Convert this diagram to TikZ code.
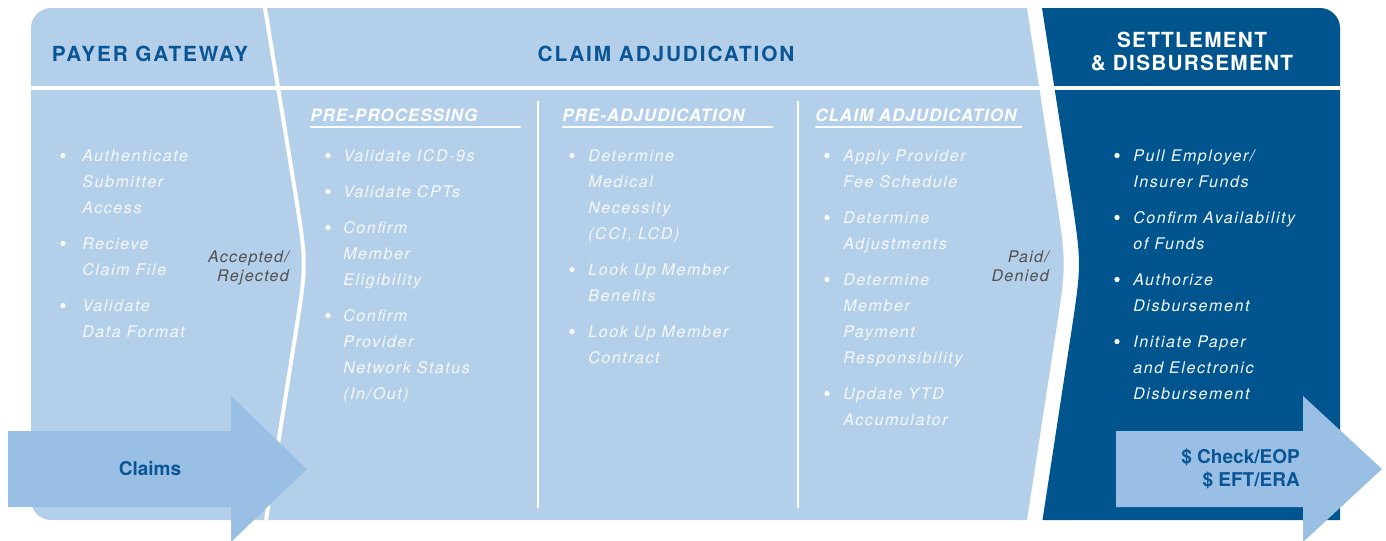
\documentclass[tikz,border=0pt]{standalone}
\usepackage{fontspec}
\newfontfamily\hfont[LetterSpace=9]{TeX Gyre Heros}
\newfontfamily\dfont[LetterSpace=6]{TeX Gyre Heros}
\newfontfamily\sfont[LetterSpace=6]{TeX Gyre Heros}
\newfontfamily\bfont[LetterSpace=10]{TeX Gyre Heros}
\newfontfamily\ffont[LetterSpace=8]{TeX Gyre Heros}
\newfontfamily\pfont{TeX Gyre Heros}
\definecolor{lightpanel}{HTML}{B3CFEA}
\definecolor{arrowfill}{HTML}{99BFE5}
\definecolor{darkpanel}{HTML}{00558F}
\definecolor{titleblue}{HTML}{0A5595}
\definecolor{graytext}{HTML}{505050}
\definecolor{softwhite}{HTML}{F6F9FD}
\tikzset{
  header/.style={font=\hfont\bfseries\fontsize{15.6}{18}\selectfont, text=titleblue, inner sep=0pt, anchor=base},
  darkheader/.style={font=\dfont\bfseries\fontsize{15.6}{18}\selectfont, text=white, inner sep=0pt, anchor=base},
  subhead/.style={font=\sfont\bfseries\itshape\fontsize{12.75}{15}\selectfont, text=white, inner sep=0pt, anchor=base west},
  btext/.style={font=\bfont\itshape\fontsize{12}{14}\selectfont, text=softwhite, inner sep=0pt, anchor=base west},
  bdot/.style={circle, fill=softwhite, inner sep=0pt, minimum size=4pt},
  flowlabel/.style={font=\ffont\itshape\fontsize{12}{14}\selectfont, text=graytext, inner sep=0pt, anchor=base east},
  arrowtext/.style={font=\pfont\bfseries\fontsize{14.25}{17}\selectfont, text=titleblue, inner sep=0pt},
  sepline/.style={white, line width=3pt},
  divider/.style={white, line width=2pt},
  uline/.style={white, line width=1.3pt},
  bigarrow/.style={fill=arrowfill}
}
\newcommand\bitems[5]{%
  \node[bdot] (#1-dot) at (#2,#4-6) {};
  \foreach \bline [count=\k from 0] in {#5}{
    \node[btext] (#1-\k) at (#3,{#4+26*\k}) {\bline};
  }
}
\begin{document}
\begin{tikzpicture}[x=0.75pt,y=-0.75pt]
\useasboundingbox (0,0) rectangle (1386,540);
% light panel
\fill[lightpanel] (1027,8) -- (51,8) .. controls (40,8) and (31,17) .. (31,28)
  -- (31,500) .. controls (31,511) and (40,520) .. (51,520) -- (1027,520)
  -- (1055.6,334) .. controls (1066.4,264) .. (1055.6,194) -- cycle;
% dark panel
\fill[darkpanel] (1042,8) -- (1320,8) .. controls (1331,8) and (1340,17) .. (1340,28)
  -- (1340,520) -- (1042.5,520)
  -- (1071,334) .. controls (1081.6,264) .. (1071,194) -- cycle;
% header line
\draw[sepline] (31,87.5) -- (1340,87.5);
% first separator
\draw[sepline] (265,8) -- (295.5,194) .. controls (306.5,264) .. (295.5,334) -- (266,520);
% column dividers
\draw[divider] (538,101) -- (538,508);
\draw[divider] (798,101) -- (798,508);
% headers
\node[header] (hpg) at (150,61) {PAYER GATEWAY};
\node[header] (hca) at (666,61) {CLAIM ADJUDICATION};
\node[darkheader] (hsd1) at (1192,47) {SETTLEMENT};
\node[darkheader] (hsd2) at (1192,70) {\& DISBURSEMENT};
% subheaders
\node[subhead] (spp) at (310,121) {PRE-PROCESSING};
\node[subhead] (spa) at (562,121) {PRE-ADJUDICATION};
\node[subhead] (sca) at (815,121) {CLAIM ADJUDICATION};
\draw[uline] (310,127) -- (521,127);
\draw[uline] (562,127) -- (773,127);
\draw[uline] (815,127) -- (1022,127);
% payer gateway
\bitems{pg1}{63}{82}{161.5}{Authenticate,Submitter,Access}
\bitems{pg2}{63}{82}{249.5}{Recieve,Claim File}
\bitems{pg3}{63}{82}{311.5}{Validate,Data Format}
% pre-processing
\bitems{pp1}{328}{343}{161.5}{Validate ICD-9s}
\bitems{pp2}{328}{343}{197.5}{Validate CPTs}
\bitems{pp3}{328}{343}{233.5}{Confirm,Member,Eligibility}
\bitems{pp4}{328}{343}{321.5}{Confirm,Provider,Network Status,(In/Out)}
% pre-adjudication
\bitems{pa1}{572}{588}{161.5}{Determine,Medical,Necessity,{(CCI, LCD)}}
\bitems{pa2}{572}{588}{275.5}{Look Up Member,Benefits}
\bitems{pa3}{572}{588}{337.5}{Look Up Member,Contract}
% claim adjudication
\bitems{ca1}{827}{843}{161.5}{Apply Provider,Fee Schedule}
\bitems{ca2}{827}{843}{223.5}{Determine,Adjustments}
\bitems{ca3}{827}{843}{285.5}{Determine,Member,Payment,Responsibility}
\bitems{ca4}{827}{843}{399.5}{Update YTD,Accumulator}
% settlement
\bitems{sd1}{1117}{1133}{161.5}{Pull Employer/,Insurer Funds}
\bitems{sd2}{1117}{1133}{223.5}{Confirm Availability,of Funds}
\bitems{sd3}{1117}{1133}{285.5}{Authorize,Disbursement}
\bitems{sd4}{1117}{1133}{347.5}{Initiate Paper,and Electronic,Disbursement}
% flow labels
\node[flowlabel] (acc1) at (289,262) {Accepted/};
\node[flowlabel] (acc2) at (289,281) {Rejected};
\node[flowlabel] (pd1) at (1049,262) {Paid/};
\node[flowlabel] (pd2) at (1049,281) {Denied};
% arrows
\fill[bigarrow] (8,431) -- (231,431) -- (231,396) -- (307,469) -- (231,542) -- (231,507) -- (8,507) -- cycle;
\fill[bigarrow] (1116,431) -- (1303,431) -- (1303,396) -- (1382,469) -- (1303,542) -- (1303,507) -- (1116,507) -- cycle;
\node[arrowtext, anchor=base] (claims) at (150,475) {Claims};
\node[arrowtext, anchor=base east] (pay1) at (1300,463) {\$ Check/EOP};
\node[arrowtext, anchor=base east] (pay2) at (1300,486) {\$ EFT/ERA};
\end{tikzpicture}
\end{document}
